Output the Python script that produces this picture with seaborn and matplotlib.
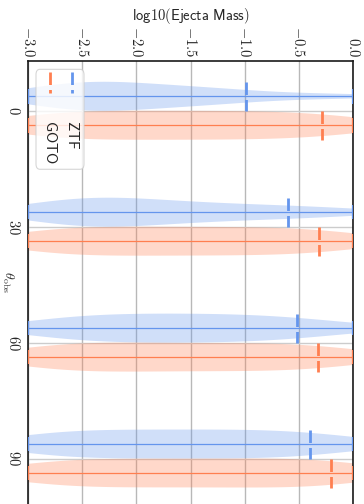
import numpy as np
import pandas as pd
import matplotlib
matplotlib.use("Agg")
import matplotlib.pyplot as plt
from matplotlib.patches import FancyBboxPatch
from matplotlib.lines import Line2D
import seaborn as sns

# Viewing angles (deg) and surveys
thetas = ["0", "30", "60", "90"]
surveys = ["ZTF", "GOTO"]
colors = {"ZTF": "#6495ED", "GOTO": "#FF7F50"}

# Posterior samples of log10(ejecta mass) for each viewing angle
ztf_0 = [-3.0, -2.85, -2.75, -2.66, -2.58, -2.5, -2.42, -2.34, -2.26, -2.17, -2.08,
         -1.98, -1.87, -1.74, -1.6, -1.45, -1.3, -1.14, -0.99, -0.5, 0.0]
goto_0 = [-3.0, -2.9, -2.78, -2.64, -2.49, -2.34, -2.18, -2.03, -1.87, -1.71, -1.56,
          -1.4, -1.25, -1.1, -0.95, -0.8, -0.62, -0.45, -0.285, -0.13, 0.0]
ztf_30 = [-3.0, -2.84, -2.73, -2.63, -2.54, -2.45, -2.36, -2.27, -2.18, -2.08, -1.97,
          -1.85, -1.71, -1.56, -1.39, -1.21, -1.02, -0.81, -0.6, -0.31, 0.0]
goto_30 = [-3.0, -2.9, -2.78, -2.64, -2.49, -2.34, -2.19, -2.03, -1.88, -1.72, -1.57,
           -1.41, -1.26, -1.1, -0.95, -0.79, -0.63, -0.47, -0.31, -0.15, 0.0]
ztf_60 = [-3.0, -2.8, -2.64, -2.5, -2.37, -2.24, -2.11, -1.98, -1.85, -1.72, -1.59,
          -1.46, -1.33, -1.2, -1.06, -0.92, -0.78, -0.65, -0.52, -0.27, 0.0]
goto_60 = [-3.0, -2.9, -2.78, -2.64, -2.5, -2.35, -2.2, -2.05, -1.9, -1.74, -1.58,
           -1.42, -1.26, -1.1, -0.94, -0.79, -0.63, -0.48, -0.32, -0.16, 0.0]
ztf_90 = [-3.0, -2.9, -2.77, -2.62, -2.47, -2.32, -2.17, -2.02, -1.87, -1.72, -1.57,
          -1.42, -1.27, -1.12, -0.97, -0.83, -0.68, -0.54, -0.4, -0.2, 0.0]
goto_90 = [-3.0, -2.9, -2.78, -2.62, -2.45, -2.29, -2.13, -1.96, -1.8, -1.64, -1.47,
           -1.31, -1.15, -0.98, -0.82, -0.66, -0.49, -0.33, -0.2, -0.09, 0.0]

samples = {
    ("0", "ZTF"): ztf_0, ("0", "GOTO"): goto_0,
    ("30", "ZTF"): ztf_30, ("30", "GOTO"): goto_30,
    ("60", "ZTF"): ztf_60, ("60", "GOTO"): goto_60,
    ("90", "ZTF"): ztf_90, ("90", "GOTO"): goto_90,
}
mass_ticks = [-3.0, -2.5, -2.0, -1.5, -1.0, -0.5, 0.0]

rows = []
for (th, sv), vals in samples.items():
    for v in vals:
        rows.append({"theta": th, "survey": sv, "logm": v})
df = pd.DataFrame(rows)

sns.set_style("ticks")
plt.rcParams["mathtext.fontset"] = "cm"
plt.rcParams["font.family"] = ["DejaVu Sans"]

fig = plt.figure(figsize=(3.64, 5.04), dpi=100)
ax = fig.add_axes([28 / 364, -3.8 / 504, 325 / 364, 446.3 / 504])

width = 0.5
sns.violinplot(data=df, x="logm", y="theta", hue="survey", order=thetas,
               hue_order=surveys, palette=colors, orient="y", inner=None, cut=0,
               density_norm="width", width=width, dodge=True, gap=0, linewidth=0,
               saturation=1, legend=False, ax=ax)
for coll in ax.collections:
    coll.set_alpha(0.3)
    coll.set_edgecolor("none")

# Range bars, extrema caps and 90% upper limits for each violin
half = width / 4
for i, th in enumerate(thetas):
    for j, sv in enumerate(surveys):
        vals = np.asarray(samples[(th, sv)])
        pos = i + (-half if j == 0 else half)
        c = colors[sv]
        lo, hi = vals.min(), vals.max()
        q90 = np.quantile(vals, 0.9)
        ax.hlines(pos, lo, hi, color=c, lw=0.9, zorder=3)
        ax.vlines([lo, hi], pos - half / 2, pos + half / 2, color=c, lw=1.6, zorder=3)
        ax.vlines(q90, pos - half, pos + half, color=c, lw=2, linestyles=(0, (4.5, 1.8)),
                  zorder=3)

ax.set_xlim(-3.0, 0.0)
ax.set_ylim(3.425, -0.425)
ax.xaxis.tick_top()
ax.xaxis.set_label_position("top")
ax.set_xticks(mass_ticks)
ax.set_xticklabels([f"${t:.1f}$" for t in mass_ticks], rotation=-90, fontsize=10.5,
                   va="bottom", ha="center")
ax.set_yticks(range(len(thetas)))
ax.set_yticklabels([f"${t}$" for t in thetas], rotation=-90, fontsize=10.5,
                   va="center", ha="right")
ax.tick_params(axis="both", length=0)
ax.tick_params(axis="x", pad=3)
ax.tick_params(axis="y", pad=5)
ax.set_xlabel(r"$\mathsf{log10(Ejecta\ Mass)}$", fontsize=10.5, labelpad=4)
ax.set_ylabel(r"$\theta_{\rm obs}$", fontsize=10, rotation=-90, color="#333333",
              va="center", ha="center", rotation_mode="anchor")
ax.yaxis.set_label_coords(-20.5 / 325, 0.505)

ax.set_axisbelow(True)
ax.xaxis.grid(True, color="#b8b8b8", lw=1.0)
ax.yaxis.grid(True, color="#cccccc", lw=1.0)
for s in ax.spines.values():
    s.set_color("#1a1a1a")
    s.set_linewidth(1.2)
    s.set_visible(True)

# Legend drawn sideways in axes coordinates
box = FancyBboxPatch((0.0246, 0.7585), 0.1477, 0.224, transform=ax.transAxes,
                     boxstyle="round,pad=0,rounding_size=0.012", facecolor="white",
                     edgecolor="#cccccc", lw=0.8, alpha=0.8, zorder=5)
ax.add_patch(box)
for sv, xf in (("ZTF", 0.1354), ("GOTO", 0.0677)):
    ax.add_line(Line2D([xf, xf], [0.9757, 0.9293], transform=ax.transAxes,
                       color=colors[sv], lw=2, ls=(0, (4.5, 1.8)), zorder=6))
    ax.text(xf, 0.8689, rf"$\mathsf{{{sv}}}$", transform=ax.transAxes, rotation=-90,
            ha="center", va="top", fontsize=11, zorder=6)

fig.savefig("out.png", dpi=100)
